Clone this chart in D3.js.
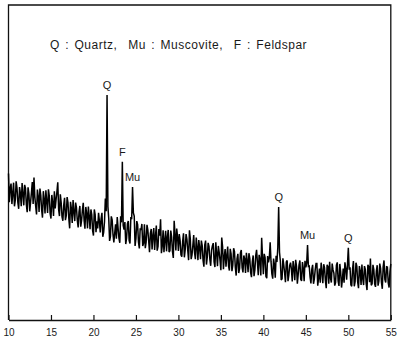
<!DOCTYPE html>
<html><head><meta charset="utf-8">
<script src="https://cdn.jsdelivr.net/npm/d3@7"></script>
<style>
html,body{margin:0;padding:0;background:#fff;}
svg{display:block;}
text{font-family:"Liberation Sans",Arial,sans-serif;fill:#1a1a1a;}
</style></head>
<body>
<script>
// 2-theta start / step (degrees)
const twoThetaStart = 10;
const twoThetaStep = 0.1;
// XRD intensity (arbitrary units), 10.0 -> 55.0 deg every 0.1 deg
const intensity = [
465,374,419,433,368,402,436,361,380,440,419,373,353,422,402,361,435,400,364,429,
418,367,342,421,401,345,374,404,438,368,452,391,361,335,414,393,343,417,396,350,
325,409,383,338,412,376,340,415,394,338,322,397,371,330,409,354,383,407,437,351,
330,399,373,327,315,364,388,317,331,390,373,322,291,375,354,308,381,345,314,373,
357,316,294,343,362,296,315,349,372,316,290,359,338,291,360,329,288,351,335,284,
268,351,335,279,313,291,340,314,278,321,340,264,278,312,386,345,714,360,322,251,
265,329,318,272,246,275,304,258,327,291,260,245,329,310,502,300,287,311,241,260,
305,314,253,243,327,320,422,340,330,235,259,314,303,247,227,291,286,305,235,244,
304,228,247,302,286,251,215,275,289,224,268,292,222,266,300,220,234,289,268,320,
212,236,285,215,254,283,218,262,286,216,220,284,264,218,197,315,271,221,290,264,
219,273,252,207,201,250,275,199,223,273,257,221,190,285,258,193,207,236,270,214,
193,262,231,190,254,229,193,252,236,190,169,238,252,176,200,245,234,193,172,221,
235,244,184,168,247,212,171,235,215,189,158,262,232,161,201,225,169,204,233,172,
157,226,210,155,174,228,217,167,141,195,210,149,163,213,222,166,151,205,194,149,
213,188,152,212,196,151,136,185,205,139,159,204,223,183,142,207,192,141,261,200,
145,210,199,139,133,203,183,197,247,186,146,131,195,175,134,204,184,230,359,215,
187,127,131,196,175,150,120,184,189,123,143,173,182,162,122,187,166,126,191,171,
115,145,175,189,129,124,184,163,123,188,167,180,238,170,171,136,116,161,175,115,
130,159,179,179,109,133,163,118,182,152,117,177,166,126,101,175,170,115,185,134,
119,179,159,149,109,119,174,183,123,108,178,153,103,128,163,118,183,163,128,175,
229,160,167,112,107,162,187,107,122,182,171,121,101,171,156,111,176,131,111,171,
161,116,95,175,170,120,195,110,115,175,160,115,105,155,174,109,124,179,164,119,
99,169,189,129,119,169,168,118,103,153,178
];
// phase labels: position (deg) and label
const peakAngles = [21.6, 23.4, 24.6, 41.8, 45.2, 50.0];
const peakLabels = ["Q", "F", "Mu", "Q", "Mu", "Q"];
// axis ticks
const xTicks = [10,15,20,25,30,35,40,45,50,55];
const legendText = "Q : Quartz,  Mu : Muscovite,  F : Feldspar";

const W = 397, H = 339;
const svg = d3.select("body").append("svg").attr("width", W).attr("height", H);

const x = d3.scaleLinear().domain([10, 55]).range([8.5, 390.8]);
const y = d3.scaleLinear().domain([0, 1000]).range([320, 5]);

const data = intensity.map((v, i) => ({t: twoThetaStart + i * twoThetaStep, v}));

// frame
svg.append("path")
  .attr("d", `M${x(10)},${y(0)}V${y(1000)}H${x(55)}V${y(0)}`)
  .attr("fill", "none").attr("stroke", "#111").attr("stroke-width", 1.3);

// bottom axis with inward ticks
const ax = svg.append("g").attr("transform", `translate(0,${y(0)})`)
  .call(d3.axisBottom(x).tickValues(xTicks).tickSize(-5).tickPadding(9).tickSizeOuter(0).tickFormat(d3.format("d")));
ax.select(".domain").attr("stroke", "#111").attr("stroke-width", 1.3);
ax.selectAll(".tick line").attr("stroke", "#111").attr("stroke-width", 1.2);
ax.selectAll(".tick text").attr("font-size", 10).attr("font-family", "Liberation Sans, Arial, sans-serif").attr("fill", "#222");

// pattern line
const line = d3.line().x(d => x(d.t)).y(d => y(d.v));
svg.append("path").datum(data)
  .attr("d", line)
  .attr("fill", "none").attr("stroke", "#000").attr("stroke-width", 1.5)
  .attr("stroke-linejoin", "miter").attr("stroke-miterlimit", 2);

// peak labels
const valueAt = t => intensity[Math.round((t - twoThetaStart) / twoThetaStep)];
svg.append("g").selectAll("text").data(peakAngles).join("text")
  .attr("x", d => x(d))
  .attr("y", d => y(valueAt(d)) - 6)
  .attr("text-anchor", "middle")
  .attr("font-size", 11)
  .text((d, i) => peakLabels[i]);

// legend
svg.append("text").attr("x", 50).attr("y", 49).attr("text-anchor", "start")
  .attr("font-size", 12).attr("letter-spacing", 0.5).attr("word-spacing", 1.6)
  .style("white-space", "pre")
  .text(legendText);
</script>
</body></html>
